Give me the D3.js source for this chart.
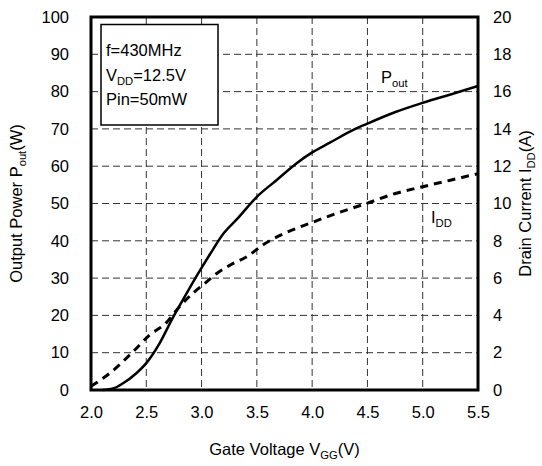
<!DOCTYPE html>
<html>
<head>
<meta charset="utf-8">
<script src="https://cdn.jsdelivr.net/npm/d3@7"></script>
<style>
  body { margin: 0; background: #fff; }
  svg text { font-family: "Liberation Sans", Arial, sans-serif; fill: #000; }
</style>
</head>
<body>
<svg id="chart" width="542" height="466"></svg>
<script>
// gate voltage (V) vs output power (W)
var poutVgg = [2.10, 2.20, 2.29, 2.41, 2.50, 2.62, 2.73, 2.83, 2.96, 3.08, 3.20, 3.32, 3.50, 3.68, 3.86, 3.99, 4.16, 4.39, 4.49, 4.76, 5.00, 5.28, 5.50];
var poutW   = [0.0,  0.4,  1.8,  4.5,  7.2,  12.5, 18.8, 24.1, 30.8, 36.6, 42.0, 45.8, 51.8, 56.3, 60.8, 63.5, 66.3, 70.0, 71.3, 74.6, 77.0, 79.5, 81.5];

// gate voltage (V) vs drain current (A)
var iddVgg = [2.00, 2.17, 2.38, 2.53, 2.68, 2.80, 2.92, 3.03, 3.14, 3.26, 3.41, 3.56, 3.77, 3.98, 4.22, 4.49, 4.76, 5.00, 5.25, 5.50];
var iddA   = [0.2,  0.9,  2.05, 2.95, 3.6,  4.47, 5.18, 5.72, 6.26, 6.70, 7.15, 7.8,  8.45, 8.94, 9.47, 10.0, 10.55, 10.9, 11.25, 11.6];

var xTicks = [2.0, 2.5, 3.0, 3.5, 4.0, 4.5, 5.0, 5.5];
var leftTicks = [0, 10, 20, 30, 40, 50, 60, 70, 80, 90, 100];
var rightTicks = [0, 2, 4, 6, 8, 10, 12, 14, 16, 18, 20];
var conditions = [["f=430MHz", ""], ["V", "DD", "=12.5V"], ["Pin=50mW", ""]];

var plotL = 91, plotR = 478, plotT = 17, plotB = 390;
var svg = d3.select("#chart");

var x = d3.scaleLinear().domain([2.0, 5.5]).range([plotL, plotR]);
var yP = d3.scaleLinear().domain([0, 100]).range([plotB, plotT]);
var yI = d3.scaleLinear().domain([0, 20]).range([plotB, plotT]);

// dashed grid
var grid = svg.append("g")
    .attr("stroke", "#333")
    .attr("stroke-width", 1)
    .attr("stroke-dasharray", "7,4");

grid.selectAll(".vg").data(xTicks.slice(1, -1)).enter().append("line")
    .attr("x1", function(d) { return x(d); })
    .attr("x2", function(d) { return x(d); })
    .attr("y1", plotT)
    .attr("y2", plotB);

grid.selectAll(".hg").data(leftTicks.slice(1, -1)).enter().append("line")
    .attr("x1", plotL)
    .attr("x2", plotR)
    .attr("y1", function(d) { return yP(d); })
    .attr("y2", function(d) { return yP(d); });

// axes with labels only, frame drawn separately
var fs = 16.5;
var xAxis = svg.append("g")
    .attr("transform", "translate(0," + plotB + ")")
    .call(d3.axisBottom(x).tickValues(xTicks).tickFormat(d3.format(".1f")).tickSize(0).tickPadding(16));
var lAxis = svg.append("g")
    .attr("transform", "translate(" + plotL + ",0)")
    .call(d3.axisLeft(yP).tickValues(leftTicks).tickSize(0).tickPadding(22));
var rAxis = svg.append("g")
    .attr("transform", "translate(" + plotR + ",0)")
    .call(d3.axisRight(yI).tickValues(rightTicks).tickSize(0).tickPadding(15));

[xAxis, lAxis, rAxis].forEach(function(a) {
    a.select(".domain").remove();
    a.selectAll("text")
        .style("font-family", "'Liberation Sans', Arial, sans-serif")
        .style("font-size", fs + "px")
        .attr("fill", "#000");
});

// curves
var linePout = d3.line()
    .x(function(d) { return x(d[0]); })
    .y(function(d) { return yP(d[1]); })
    .curve(d3.curveMonotoneX);

var lineIdd = d3.line()
    .x(function(d) { return x(d[0]); })
    .y(function(d) { return yI(d[1]); })
    .curve(d3.curveMonotoneX);

svg.append("path")
    .datum(d3.zip(poutVgg, poutW))
    .attr("d", linePout)
    .attr("fill", "none")
    .attr("stroke", "#000")
    .attr("stroke-width", 2.5);

svg.append("path")
    .datum(d3.zip(iddVgg, iddA))
    .attr("d", lineIdd)
    .attr("fill", "none")
    .attr("stroke", "#000")
    .attr("stroke-width", 3)
    .attr("stroke-dasharray", "8,6");

// frame
svg.append("rect")
    .attr("x", plotL)
    .attr("y", plotT)
    .attr("width", plotR - plotL)
    .attr("height", plotB - plotT)
    .attr("fill", "none")
    .attr("stroke", "#000")
    .attr("stroke-width", 3);

// text with subscript
function subText(g, px, py, parts, size, anchor) {
    var t = g.append("text")
        .attr("x", px)
        .attr("y", py)
        .attr("text-anchor", anchor || "start")
        .style("font-size", size + "px");
    t.append("tspan").text(parts[0]);
    if (parts[1]) {
        t.append("tspan").text(parts[1])
            .attr("dy", 4)
            .style("font-size", (size * 0.68) + "px");
    }
    if (parts[2]) {
        t.append("tspan").text(parts[2])
            .attr("dy", -4);
    }
    return t;
}

// conditions box
svg.append("rect")
    .attr("x", 101)
    .attr("y", 24.5)
    .attr("width", 117)
    .attr("height", 100.5)
    .attr("fill", "#fff")
    .attr("stroke", "#000")
    .attr("stroke-width", 1.5);

conditions.forEach(function(c, i) {
    subText(svg, 106, 56 + i * 24.5, c, fs);
});

// curve labels
subText(svg, 381, 83, ["P", "out"], fs);
subText(svg, 431, 223, ["I", "DD"], fs);

// axis titles
subText(svg, (plotL + plotR) / 2, 455, ["Gate Voltage V", "GG", "(V)"], fs, "middle");

var lt = svg.append("g").attr("transform", "translate(22," + (plotT + plotB) / 2 + ") rotate(-90)");
subText(lt, 0, 0, ["Output Power P", "out", "(W)"], fs, "middle");

var rt = svg.append("g").attr("transform", "translate(531," + (plotT + plotB) / 2 + ") rotate(-90)");
subText(rt, 0, 0, ["Drain Current I", "DD", "(A)"], fs, "middle");
</script>
</body>
</html>
